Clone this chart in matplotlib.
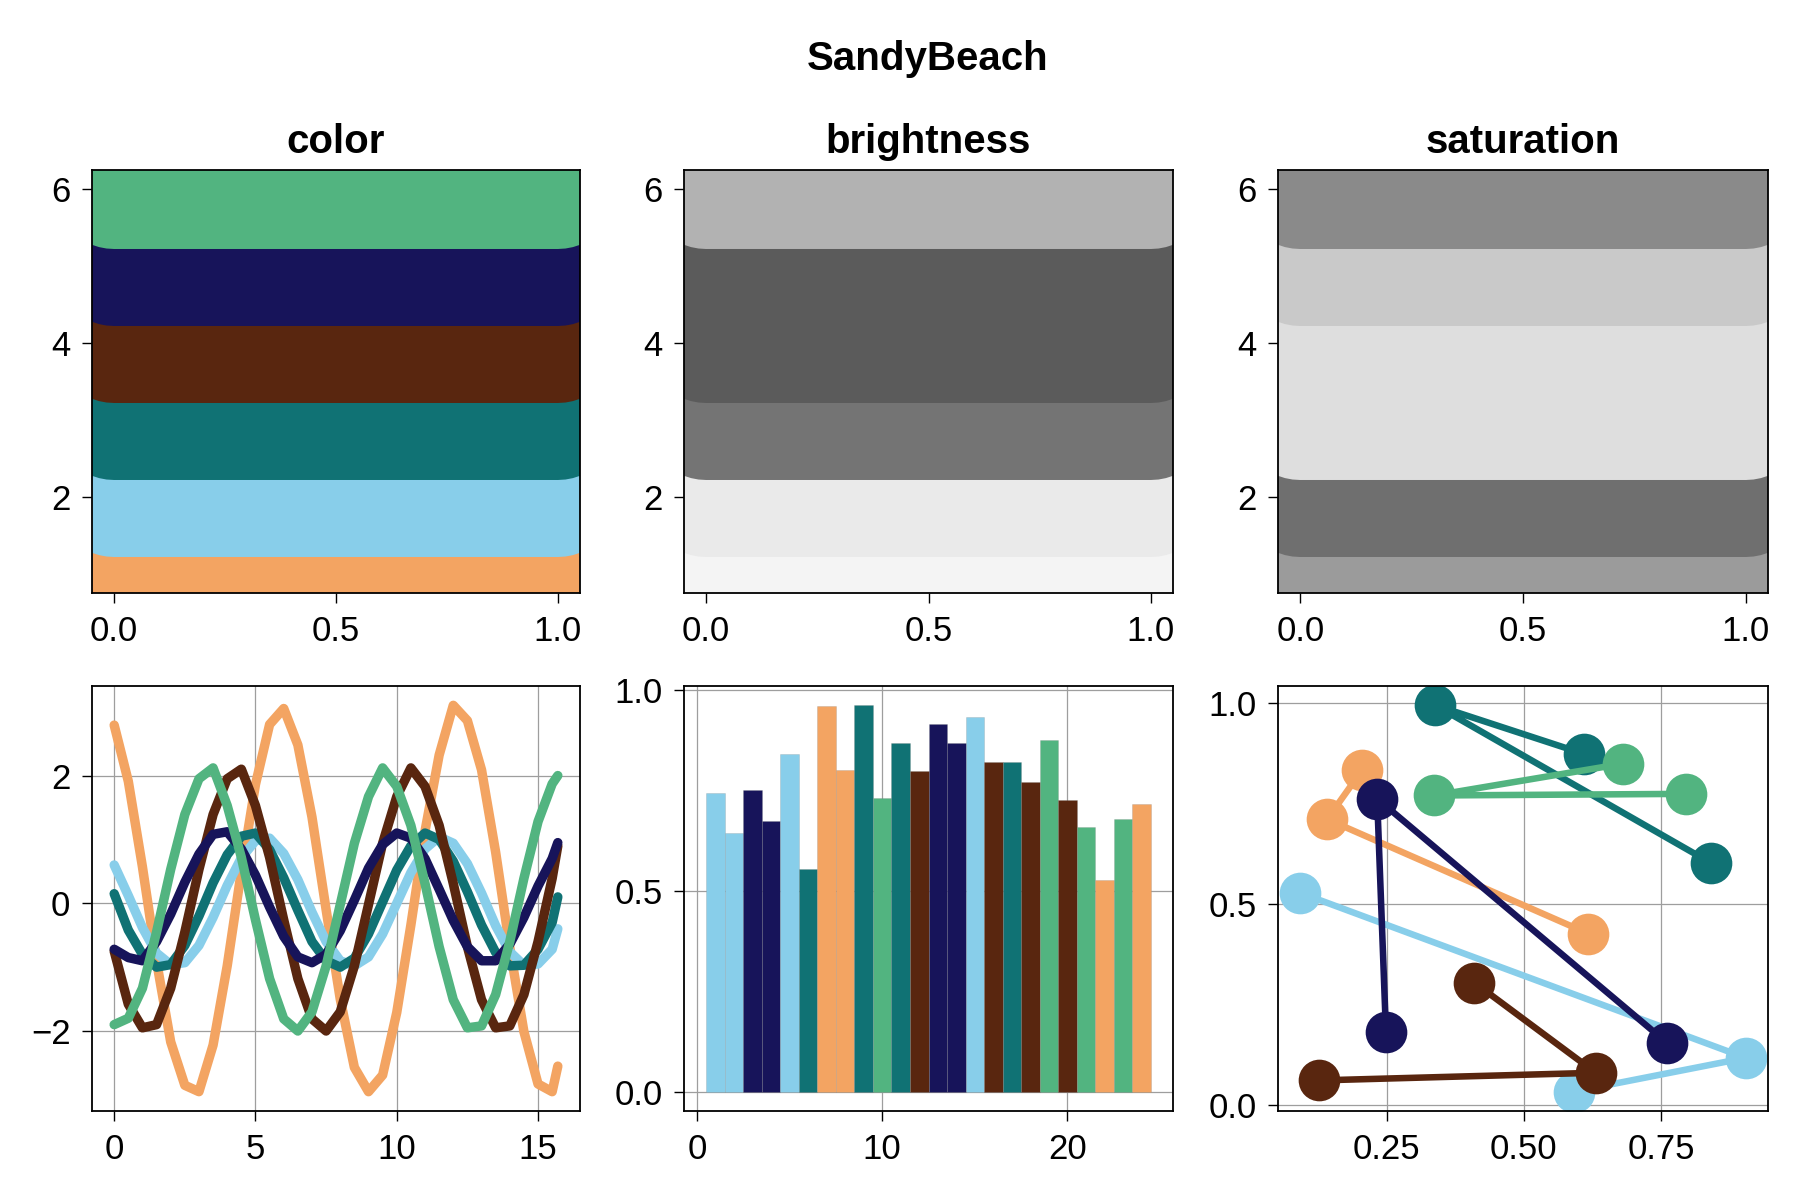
import numpy as np
from matplotlib import pyplot as plt

plt.rcParams['font.family'] = ['Liberation Sans', 'DejaVu Sans']

# SandyBeach palette, in drawing order
colors = ["#F3A462", "#88CEEA", "#107274", "#59260F", "#17145A", "#52B480"]
brightness_grays = ["#F4F4F4", "#EAEAEA", "#747474", "#5B5B5B", "#5B5B5B", "#B2B2B2"]
saturation_grays = ["#9B9B9B", "#6F6F6F", "#DEDEDE", "#DEDEDE", "#C9C9C9", "#8A8A8A"]
band_levels = [1, 2, 3, 4, 5, 6]

# wavy lines
line_x = [0.0, 0.5, 1.0, 1.5, 2.0, 2.5, 3.0, 3.5, 4.0, 4.5, 5.0, 5.5, 6.0, 6.5, 7.0, 7.5,
          8.0, 8.5, 9.0, 9.5, 10.0, 10.5, 11.0, 11.5, 12.0, 12.5, 13.0, 13.5, 14.0, 14.5,
          15.0, 15.5, 15.7]
line_orange = [2.79, 1.91, 0.57, -0.91, -2.17, -2.85, -2.95, -2.22, -0.98, 0.50, 1.86, 2.80,
               3.05, 2.48, 1.35, -0.10, -1.50, -2.57, -2.95, -2.69, -1.71, -0.34, 1.13, 2.32,
               3.10, 2.86, 2.09, 0.80, -0.69, -2.01, -2.83, -2.95, -2.55]
line_lightblue = [0.60, 0.12, -0.38, -0.78, -0.96, -0.93, -0.66, -0.22, 0.28, 0.71, 0.98, 1.02,
                  0.78, 0.37, -0.14, -0.60, -0.90, -0.98, -0.84, -0.48, 0.00, 0.48, 0.85, 1.04,
                  0.94, 0.62, 0.16, -0.35, -0.76, -0.97, -0.95, -0.72, -0.40]
line_teal = [0.15, -0.42, -0.80, -1.00, -0.96, -0.66, -0.20, 0.32, 0.76, 1.05, 1.10, 0.84,
             0.40, -0.11, -0.60, -0.90, -1.00, -0.86, -0.48, 0.02, 0.52, 0.90, 1.10, 1.00,
             0.66, 0.18, -0.34, -0.77, -0.98, -0.97, -0.72, -0.30, 0.10]
line_brown = [-0.75, -1.58, -1.95, -1.90, -1.33, -0.45, 0.53, 1.39, 1.95, 2.10, 1.53, 0.72,
              -0.26, -1.18, -1.81, -2.00, -1.70, -0.98, -0.02, 0.94, 1.67, 2.12, 1.83, 1.22,
              0.31, -0.68, -1.51, -1.95, -1.92, -1.43, -0.60, 0.39, 0.90]
line_navy = [-0.72, -0.85, -0.90, -0.60, -0.17, 0.33, 0.77, 1.08, 1.12, 0.85, 0.44, -0.06,
             -0.52, -0.84, -0.93, -0.80, -0.43, 0.05, 0.55, 0.92, 1.10, 1.02, 0.70, 0.22,
             -0.27, -0.68, -0.90, -0.90, -0.64, -0.22, 0.27, 0.70, 0.95]
line_green = [-1.90, -1.80, -1.33, -0.45, 0.53, 1.39, 1.95, 2.12, 1.53, 0.72, -0.26, -1.18,
              -1.81, -2.00, -1.70, -0.98, -0.02, 0.94, 1.67, 2.12, 1.83, 1.22, 0.31, -0.68,
              -1.51, -1.95, -1.92, -1.43, -0.60, 0.39, 1.28, 1.87, 2.00]
lines_y = [line_orange, line_lightblue, line_teal, line_brown, line_navy, line_green]

# bars
bar_x = list(range(1, 25))
bar_heights = [0.744, 0.645, 0.751, 0.674, 0.841, 0.555, 0.961, 0.803, 0.963, 0.731, 0.870, 0.799,
               0.916, 0.869, 0.934, 0.821, 0.821, 0.771, 0.876, 0.727, 0.660, 0.528, 0.680, 0.716]
bar_color_idx = [1, 1, 4, 4, 1, 2, 0, 0, 2, 5, 2, 3, 4, 4, 1, 3, 2, 3, 5, 3, 5, 0, 5, 0]

# scatter lines: three points each
sc_x = [[0.206, 0.142, 0.617],
        [0.093, 0.904, 0.591],
        [0.610, 0.339, 0.841],
        [0.410, 0.631, 0.128],
        [0.249, 0.233, 0.761],
        [0.681, 0.337, 0.795]]
sc_y = [[0.834, 0.711, 0.427],
        [0.528, 0.118, 0.034],
        [0.873, 0.994, 0.602],
        [0.305, 0.081, 0.062],
        [0.182, 0.762, 0.155],
        [0.849, 0.770, 0.774]]

TICK_SIZE = 25
W, H = 1800, 1200


def style_axes(ax, grid=False):
    for sp in ax.spines.values():
        sp.set_linewidth(1.3)
    ax.tick_params(direction='out', length=7.5, width=1.0, labelsize=TICK_SIZE, pad=8,
                   top=False, right=False)
    if grid:
        ax.grid(True, color='0.62', linewidth=0.9)
        ax.set_axisbelow(True)


def band_panel(ax, band_colors, title):
    ax.set_xlim(-0.05, 1.05)
    ax.set_ylim(0.75, 6.25)
    px_per_unit = ax.bbox.height / 5.5
    lw = 1.56 * px_per_unit * 72 / fig.dpi
    for lvl, c in zip(band_levels, band_colors):
        ax.plot([0, 1], [lvl, lvl], color=c, linewidth=lw, solid_capstyle='round')
    ax.set_xticks([0.0, 0.5, 1.0])
    ax.set_xticklabels(["0.0", "0.5", "1.0"])
    ax.set_yticks([2, 4, 6])
    ax.set_title(title, fontsize=29, fontweight='bold', pad=12)
    style_axes(ax)


fig = plt.figure(figsize=(18, 12), dpi=100)

col_l = [92, 684, 1278]
col_r = [580, 1173, 1768]
top_row = (170, 593)
bot_row = (686, 1111)


def make_ax(c, row):
    l, r = col_l[c], col_r[c]
    t, b = row
    return fig.add_axes([l / W, 1 - b / H, (r - l) / W, (b - t) / H])


ax1 = make_ax(0, top_row)
ax2 = make_ax(1, top_row)
ax3 = make_ax(2, top_row)
ax4 = make_ax(0, bot_row)
ax5 = make_ax(1, bot_row)
ax6 = make_ax(2, bot_row)

band_panel(ax1, colors, "color")
band_panel(ax2, brightness_grays, "brightness")
band_panel(ax3, saturation_grays, "saturation")

# lines
for ys, c in zip(lines_y, colors):
    ax4.plot(line_x, ys, color=c, linewidth=6.8, solid_joinstyle='round',
             solid_capstyle='round')
ax4.set_xticks([0, 5, 10, 15])
ax4.set_yticks([-2, 0, 2])
ax4.set_yticklabels(["\u22122", "0", "2"])
style_axes(ax4, grid=True)

# bars
ax5.bar(bar_x, bar_heights, width=1.0, color=[colors[i] for i in bar_color_idx],
        edgecolor=(0.5, 0.5, 0.5, 0.25), linewidth=0.6)
ax5.use_sticky_edges = False
ax5.margins(0.05)
ax5.set_xticks([0, 10, 20])
ax5.set_yticks([0.0, 0.5, 1.0])
ax5.set_yticklabels(["0.0", "0.5", "1.0"])
style_axes(ax5, grid=True)

# scatter lines
for xs, ys, c in zip(sc_x, sc_y, colors):
    ax6.plot(xs, ys, color=c, linewidth=4.7, marker='o', markersize=30,
             markeredgewidth=0, solid_capstyle='round')
ax6.margins(0.05)
ax6.set_xticks([0.25, 0.5, 0.75])
ax6.set_xticklabels(["0.25", "0.50", "0.75"])
ax6.set_yticks([0.0, 0.5, 1.0])
ax6.set_yticklabels(["0.0", "0.5", "1.0"])
style_axes(ax6, grid=True)

fig.text(928 / W, 1 - 70 / H, "SandyBeach", fontsize=29, fontweight='bold',
         ha='center', va='baseline')

fig.savefig("out.png", dpi=100)
